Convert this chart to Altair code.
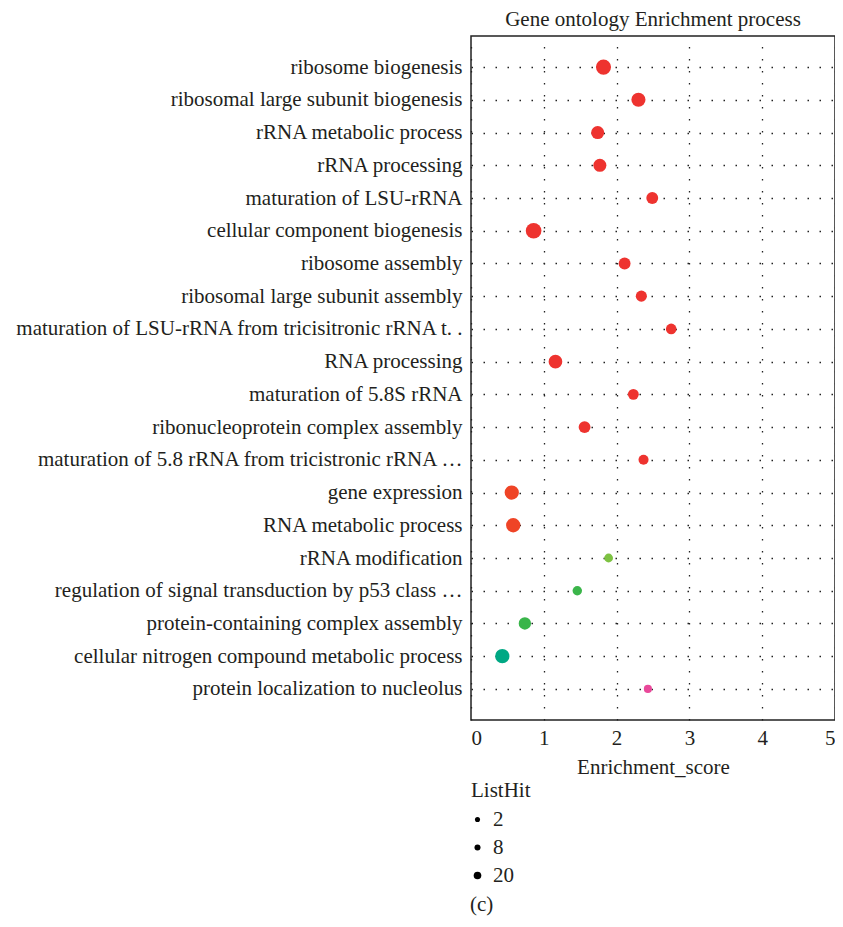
import altair as alt
import pandas as pd

terms = [
    "ribosome biogenesis",
    "ribosomal large subunit biogenesis",
    "rRNA metabolic process",
    "rRNA processing",
    "maturation of LSU-rRNA",
    "cellular component biogenesis",
    "ribosome assembly",
    "ribosomal large subunit assembly",
    "maturation of LSU-rRNA from tricisitronic rRNA t. .",
    "RNA processing",
    "maturation of 5.8S rRNA",
    "ribonucleoprotein complex assembly",
    "maturation of 5.8 rRNA from tricistronic rRNA …",
    "gene expression",
    "RNA metabolic process",
    "rRNA modification",
    "regulation of signal transduction by p53 class …",
    "protein-containing complex assembly",
    "cellular nitrogen compound metabolic process",
    "protein localization to nucleolus",
]
scores = [1.82, 2.30, 1.74, 1.77, 2.49, 0.86, 2.11, 2.34, 2.75, 1.16,
          2.23, 1.56, 2.37, 0.56, 0.58, 1.89, 1.46, 0.74, 0.43, 2.43]
listhit = [30, 25, 20, 20, 15, 33, 15, 12, 10, 23,
           11, 15, 8, 26, 26, 4, 6, 17, 26, 2]
colors = ["#EE332F"] * 13 + ["#EF4426", "#EF4426", "#7DC242", "#3BB54A",
                             "#39B54A", "#00A884", "#E9489A"]
legend_values = [2, 8, 20]
caption = ["(c)"]

df = pd.DataFrame({"term": terms, "Enrichment_score": scores,
                   "ListHit": listhit, "color": colors})

FONT = "Liberation Serif"
FS = 21
TXT = "#231F20"
DASH = [1.5, 10.5]

y_enc = alt.Y("term:N", sort=terms, title=None,
              scale=alt.Scale(type="point", padding=0.95),
              axis=alt.Axis(grid=True, gridDash=DASH, gridColor="#222",
                            gridWidth=1.3, ticks=False, domain=False,
                            labelFontSize=FS, labelFont=FONT, labelColor=TXT,
                            labelPadding=9, labelLimit=0))
x_enc = alt.X("Enrichment_score:Q", title="Enrichment_score",
              scale=alt.Scale(domain=[0, 5], nice=False),
              axis=alt.Axis(values=[0, 1, 2, 3, 4, 5], grid=True,
                            gridDash=DASH, gridColor="#222", gridWidth=1.3,
                            ticks=False, domain=False, labelFontSize=FS,
                            labelFont=FONT, labelColor=TXT, labelPadding=7,
                            titleFont=FONT, titleFontSize=FS,
                            titleFontWeight="normal", titleColor=TXT,
                            titlePadding=8))

hidden = alt.Chart(df).mark_circle(opacity=0, color="black").encode(
    x=x_enc, y=y_enc,
    size=alt.Size("ListHit:Q", scale=alt.Scale(domain=[2, 20], range=[26, 58]),
                  legend=alt.Legend(title="ListHit", values=legend_values,
                                    orient="none", legendX=0, legendY=744,
                                    symbolOpacity=1, symbolFillColor="black",
                                    symbolStrokeColor="black",
                                    symbolOffset=-4,
                                    titleFont=FONT, titleFontSize=FS,
                                    titleFontWeight="normal", titleColor=TXT,
                                    titlePadding=8, labelFont=FONT,
                                    labelFontSize=FS, labelColor=TXT,
                                    labelOffset=5, rowPadding=6)),
)

points = alt.Chart(df).mark_circle(opacity=1).encode(
    x=x_enc, y=y_enc,
    size=alt.Size("ListHit:Q", scale=alt.Scale(domain=[2, 33], range=[66, 245]),
                  legend=None),
    color=alt.Color("color:N", scale=None),
)

cap = alt.Chart(pd.DataFrame({"t": caption})).mark_text(
    font=FONT, fontSize=FS, align="left", baseline="middle", color=TXT
).encode(text="t:N", x=alt.value(-1), y=alt.value(869))

chart = alt.layer(hidden, points, cap).resolve_scale(size="independent").properties(
    width=364, height=684,
    title=alt.TitleParams("Gene ontology Enrichment process", font=FONT,
                          fontSize=FS, fontWeight="normal", color=TXT,
                          offset=6, anchor="middle"),
    autosize=alt.AutoSizeParams(type="none"),
    padding={"left": 463, "top": 28, "right": 0, "bottom": 199},
).configure_view(stroke="#222", strokeWidth=1.5)

chart.save("out.html", embed_options={"renderer": "svg", "actions": False})
